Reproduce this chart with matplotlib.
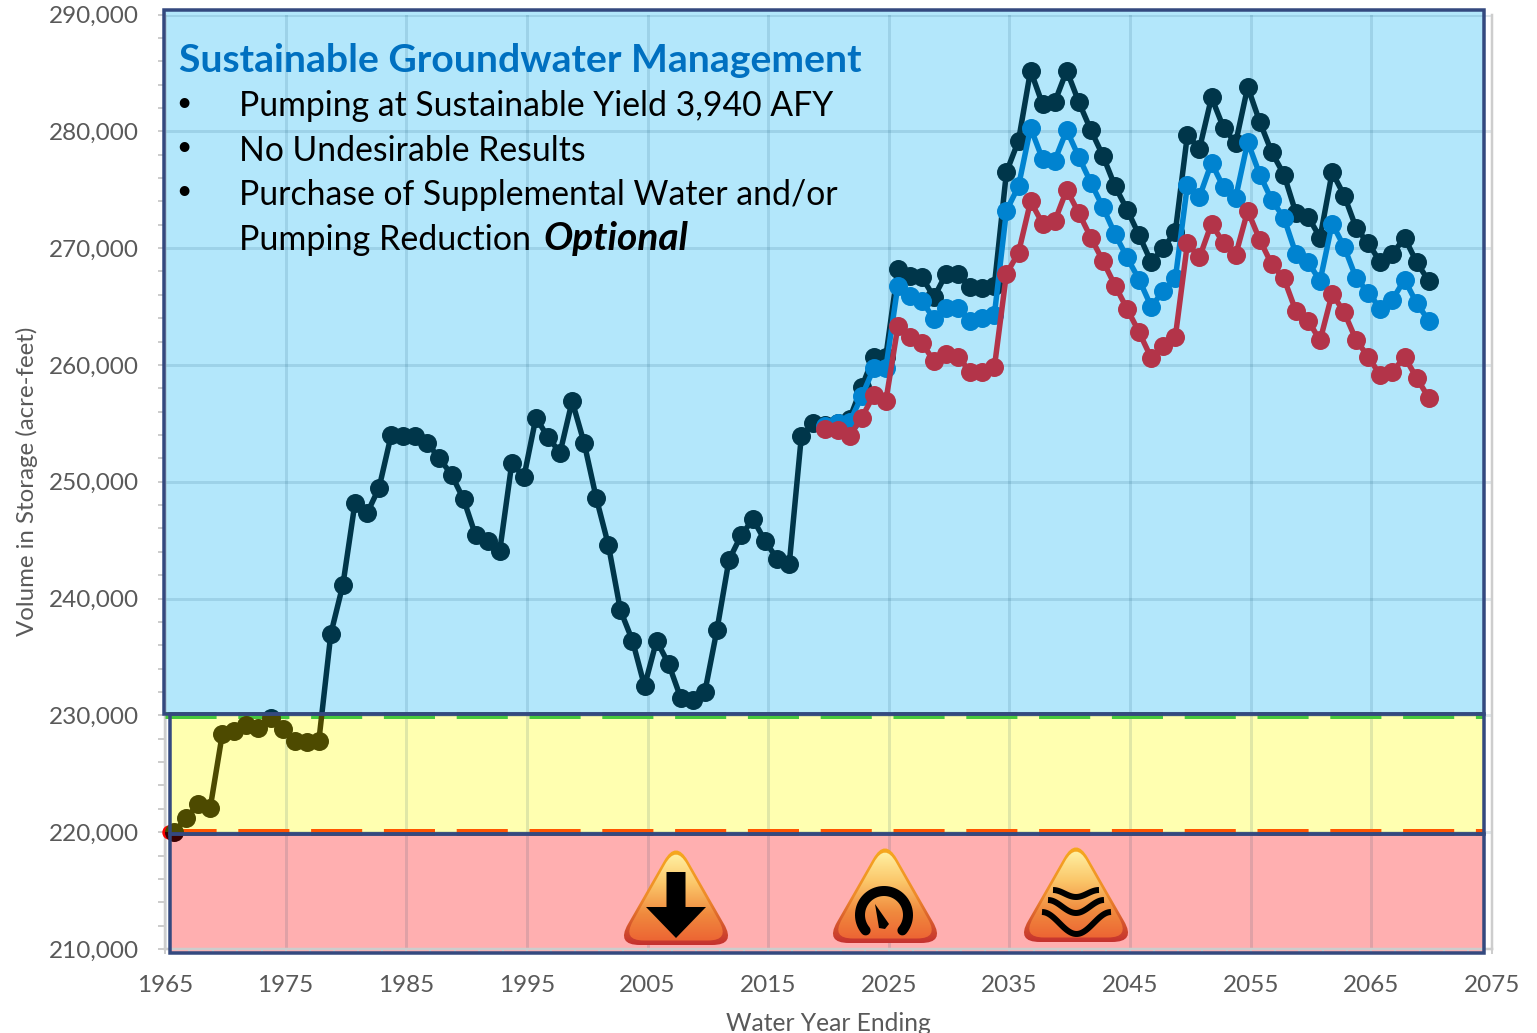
import numpy as np
import matplotlib
matplotlib.use("Agg")
from matplotlib import pyplot as plt
from matplotlib.patches import Rectangle, PathPatch, Polygon
from matplotlib.path import Path
from matplotlib.ticker import MultipleLocator, FuncFormatter
from matplotlib.transforms import Bbox, TransformedBbox

plt.rcParams['font.family'] = ['Lato', 'DejaVu Sans']

# water years, plotted at the end of september
years = np.arange(1965, 2070) + 0.75

storage_base = [
    220000, 221200, 222400, 222100, 228400, 228700, 229200, 228900, 229800, 228800,
    227800, 227700, 227800, 237000, 241200, 248200, 247300, 249500, 254000, 253900,
    253900, 253300, 252000, 250600, 248500, 245400, 244900, 244100, 251600, 250400,
    255500, 253800, 252500, 256900, 253300, 248600, 244600, 239000, 236400, 232500,
    236400, 234400, 231500, 231300, 232000, 237300, 243300, 245400, 246800, 244900,
    243400, 243000, 253900, 255000, 254900, 255000, 255400, 258100, 260700, 260700,
    268200, 267600, 267500, 265800, 267800, 267800, 266700, 266600, 266800, 276500,
    279200, 285200, 282300, 282500, 285200, 282500, 280100, 277900, 275300, 273300,
    271100, 268800, 270000, 271400, 279700, 278500, 282900, 280300, 279000, 283800,
    280800, 278200, 276300, 273000, 272700, 270900, 276500, 274500, 271700, 270400,
    268800, 269500, 270900, 268800, 267200,
]
# the two other runs start in 2019
storage_blue = [
    254800, 255000, 255100, 257300, 259700, 259700, 266800, 265900, 265500, 263900,
    264900, 264900, 263800, 264000, 264300, 273200, 275300, 280300, 277600, 277500,
    280100, 277800, 275600, 273500, 271200, 269200, 267300, 265000, 266300, 267400,
    275400, 274400, 277300, 275200, 274300, 279100, 276300, 274100, 272600, 269500,
    268800, 267200, 272100, 270100, 267400, 266200, 264800, 265600, 267300, 265300,
    263800,
]
storage_red = [
    254500, 254400, 253900, 255500, 257400, 256900, 263300, 262400, 261900, 260300,
    260900, 260700, 259400, 259400, 259800, 267800, 269600, 274000, 272100, 272300,
    275000, 273000, 270900, 268900, 266800, 264800, 262800, 260600, 261600, 262400,
    270400, 269200, 272100, 270400, 269400, 273200, 270700, 268600, 267400, 264600,
    263800, 262100, 266100, 264500, 262100, 260700, 259100, 259400, 260700, 258900,
    257200,
]
minimum_threshold = 220000
measurable_objective = 230000

W, H = 1537, 1033
DARK = "#00364A"
BLUE = "#0083D0"
RED = "#B33449"
NAVY = "#34497F"
GRAY = "#595959"

fig = plt.figure(figsize=(W / 100, H / 100), dpi=100, facecolor="white")

def px(v):
    # pixels to points
    return v * 0.72

# background layer in pixel coordinates, for the coloured zones
ax_bg = fig.add_axes([0, 0, 1, 1], zorder=0)
ax_bg.set_xlim(0, W)
ax_bg.set_ylim(H, 0)
ax_bg.axis("off")
ax_bg.add_patch(Rectangle((163, 10), 1321, 704, fc="#B3E7FB", ec="none"))
ax_bg.add_patch(Rectangle((170, 714), 1314, 120, fc="#FFFFB0", ec="none"))
ax_bg.add_patch(Rectangle((170, 834), 1314, 119, fc="#FFAFB0", ec="none"))

# the chart
ax = fig.add_axes([165 / W, 1 - 949 / H, 1327 / W, 934.5 / H], zorder=1)
ax.patch.set_alpha(0)
ax.set_xlim(1965, 2075)
ax.set_ylim(210000, 290000)
ax.xaxis.set_major_locator(MultipleLocator(10, offset=5))
ax.xaxis.set_minor_locator(MultipleLocator(2, offset=1))
ax.yaxis.set_major_locator(MultipleLocator(10000))
ax.yaxis.set_minor_locator(MultipleLocator(2000))
ax.yaxis.set_major_formatter(FuncFormatter(lambda v, p: f"{v:,.0f}"))
ax.grid(True, which="major", color="#004060", alpha=0.12, lw=px(3))
ax.spines["top"].set_visible(False)
for s in ["left", "bottom", "right"]:
    ax.spines[s].set_color("#CDCDCD")
    ax.spines[s].set_linewidth(px(2.5))
ax.tick_params(axis="both", which="both", color="#CDCDCD", width=px(2))
ax.tick_params(axis="y", which="both", length=px(7))
ax.tick_params(axis="x", which="both", length=px(5))
ax.tick_params(axis="y", which="major", labelsize=17.5, labelcolor=GRAY, pad=px(19))
ax.tick_params(axis="x", which="major", labelsize=17.5, labelcolor=GRAY, pad=px(21))
ax.set_xlabel("Water Year Ending", fontsize=17.7, color=GRAY)
ax.set_ylabel("Volume in Storage (acre-feet)", fontsize=17.3, color=GRAY)
ax.xaxis.set_label_coords(0.4996, -0.0675)
ax.yaxis.set_label_coords(-0.0955, 0.5)

# threshold lines
ax.plot([1965, 2074.3], [measurable_objective] * 2, color="#47C83C", lw=px(7),
        ls=(0, (7.3, 3.1)), zorder=3)
ax.plot([1965, 2074.3], [minimum_threshold] * 2, color="#FF5500", lw=px(7),
        ls=(0, (7.3, 3.1)), zorder=3)
ax.plot([1965.35], [minimum_threshold], "o", color="#FF0000", ms=px(13), clip_on=False, zorder=3)

style = dict(marker="o", lw=px(5.5), ms=px(19), mew=0, zorder=4)

# base run changes colour where it runs under the yellow and the red zones
zones = [(230000, 290000, DARK), (220000, 230000, "#4D4A00"), (210000, 220000, "#3B0000")]
for low, high, colour in zones:
    line, = ax.plot(years, storage_base, color=colour, **style)
    line.set_clip_box(TransformedBbox(Bbox([[1965, low], [2075, high]]), ax.transData))
ax.plot(years[54:], storage_blue, color=BLUE, **style)
ax.plot(years[54:], storage_red, color=RED, **style)

# front layer, in pixel coordinates, for frames, text and icons
ax_fg = fig.add_axes([0, 0, 1, 1], zorder=2)
ax_fg.patch.set_alpha(0)
ax_fg.axis("off")
ax_fg.set_xlim(0, W)
ax_fg.set_ylim(H, 0)
for x, y, w, h in [(163.5, 10, 1320.5, 703.5), (170, 713.5, 1314, 120.5), (170, 834, 1314, 119)]:
    ax_fg.add_patch(Rectangle((x, y), w, h, fc="none", ec=NAVY, lw=px(3.5), joinstyle="miter"))

ax_fg.text(179, 72, "Sustainable Groundwater Management", fontsize=28.2, fontweight="bold",
           color="#0070C0", va="baseline")
lines = ["Pumping at Sustainable Yield 3,940 AFY", "No Undesirable Results",
         "Purchase of Supplemental Water and/or"]
baselines = [116, 161, 205]
for txt, y in zip(lines, baselines):
    ax_fg.text(176.6, y - 5.5, "\u2022", fontsize=19, color="black", va="baseline")
    ax_fg.text(239, y, txt, fontsize=24.3, color="black", va="baseline")
ax_fg.text(239, 250, "Pumping Reduction", fontsize=24.5, color="black", va="baseline")
ax_fg.text(543, 250, "Optional", fontsize=28, color="black", va="baseline",
           fontweight="bold", fontstyle="italic")


def rounded_triangle(cx, half, top, bottom, r):
    corners = [np.array(c, dtype=float) for c in [(cx, top), (cx + half, bottom), (cx - half, bottom)]]
    verts, codes = [], []
    for i, c in enumerate(corners):
        prev_c = corners[i - 1]
        next_c = corners[(i + 1) % 3]
        a = c + (prev_c - c) / np.linalg.norm(prev_c - c) * r
        b = c + (next_c - c) / np.linalg.norm(next_c - c) * r
        verts += [a, c, b]
        codes += [Path.MOVETO if i == 0 else Path.LINETO, Path.CURVE3, Path.CURVE3]
    verts.append(verts[0])
    codes.append(Path.CLOSEPOLY)
    return Path(verts, codes)


def gradient_fill(path, cmap_colours, top, bottom, x0, x1):
    cmap = matplotlib.colors.LinearSegmentedColormap.from_list("g", cmap_colours)
    grad = np.linspace(0, 1, 128).reshape(-1, 1)
    im = ax_fg.imshow(grad, cmap=cmap, extent=(x0, x1, bottom, top), aspect="auto", zorder=5)
    patch = PathPatch(path, fc="none", ec="none", transform=ax_fg.transData)
    ax_fg.add_patch(patch)
    im.set_clip_path(patch)


def icon(cx, top, bottom):
    outer = rounded_triangle(cx, 60, top - 12, bottom, 24)
    inner = rounded_triangle(cx, 54, top - 7, bottom - 4.5, 22)
    gradient_fill(outer, ["#F6A81E", "#EE8A2A", "#C4302F"], top - 2, bottom + 1, cx - 70, cx + 70)
    gradient_fill(inner, ["#FFF3A6", "#FBC76A", "#F08A3E", "#EC5F32"], top, bottom, cx - 70, cx + 70)


icon(676, 852, 945)
icon(885, 850, 943)
icon(1076, 849, 942)
ax_fg.set_xlim(0, W)
ax_fg.set_ylim(H, 0)

# arrow
ax_fg.add_patch(Polygon([(666.5, 872), (685.5, 872), (685.5, 907), (706, 907), (676, 938),
                         (646, 907), (666.5, 907)], fc="black", ec="none", zorder=6))
# gauge
t = np.radians(np.linspace(-40, 220, 60))
ax_fg.plot(884 + 24 * np.cos(t), 915 - 24 * np.sin(t), color="black", lw=px(10),
           solid_capstyle="round", zorder=6)
ax_fg.add_patch(Polygon([(875, 904), (889, 924), (885, 929), (879, 928)], fc="black", ec="none", zorder=6))
# waves
for x0, x1, y0, sag, lw in [(1053, 1099, 890, 7, 6), (1048, 1104, 900, 13, 6), (1042, 1111, 912, 22, 6)]:
    s = np.linspace(0, 1, 50)
    ax_fg.plot(x0 + (x1 - x0) * s, y0 + sag * (1 - np.cos(2 * np.pi * s)) / 2, color="black",
               lw=px(lw), zorder=6, solid_capstyle="butt")

fig.savefig("out.png", dpi=100)
